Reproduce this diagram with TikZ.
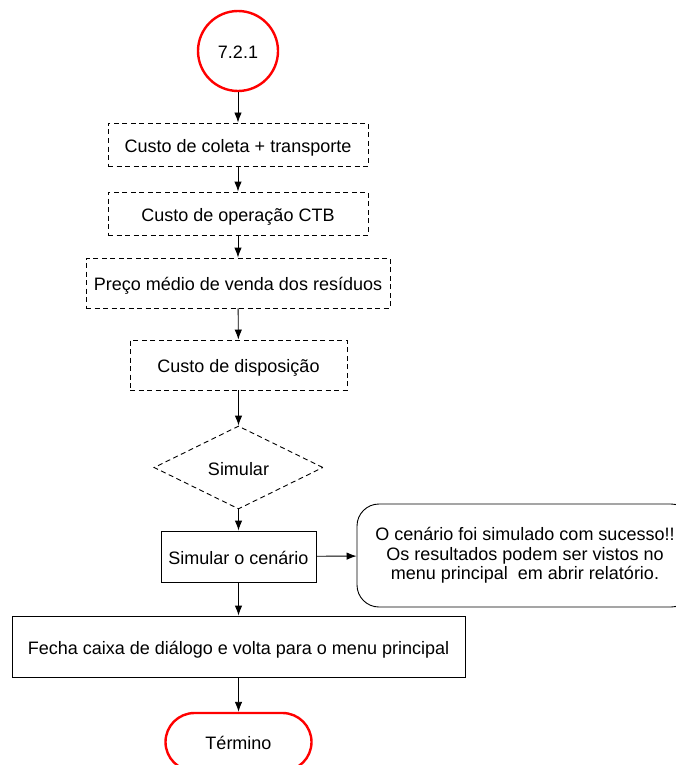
\documentclass[tikz,border=0pt]{standalone}
\usepackage{fontspec}
\setmainfont{Liberation Sans}
\usetikzlibrary{arrows.meta, shapes.geometric, shapes.misc}

\begin{document}
\begin{tikzpicture}[x=1pt,y=-1pt,>={Latex[length=10pt,width=7.5pt]},line width=0.9pt,
  font=\fontsize{18}{19.5}\selectfont,
  oneline/.style={inner sep=0pt,text height=15pt,text depth=0pt},
  dbox/.style={draw,oneline,dash pattern=on 5pt off 3.5pt},
  sbox/.style={draw,oneline},
  mbox/.style={draw,inner sep=0pt,rounded corners=22pt,align=center},
  term/.style={draw=red,oneline,line width=2.4pt}]
  \useasboundingbox (0,0) rectangle (676,765);
  \clip (0,0) rectangle (676,765);

  % start and blocks
  \node[term,circle,minimum size=80pt] (ini) at (238,51) {7.2.1};
  \node[dbox,minimum width=260pt,minimum height=43pt] (coleta) at (238,144.5) {Custo de coleta + transporte};
  \node[dbox,minimum width=260pt,minimum height=43pt] (ctb) at (238,213.5) {Custo de operação CTB};
  \node[dbox,minimum width=304pt,minimum height=50pt] (venda) at (238,283) {Preço médio de venda dos resíduos};
  \node[dbox,minimum width=217pt,minimum height=50pt] (disp) at (238.5,365) {Custo de disposição};

  % decision
  \node[dbox,diamond,minimum width=169pt,minimum height=83pt] (sim) at (238.5,467.5) {Simular};
  \node[sbox,minimum width=155pt,minimum height=51pt] (cen) at (238.5,556.5) {Simular o cenário};
  \node[mbox,minimum width=336pt,minimum height=103pt] (msg) at (525,555.5)
    {O cenário foi simulado com sucesso!!\\Os resultados podem ser vistos no\\menu principal \ em abrir relatório.};
  \node[sbox,minimum width=453pt,minimum height=61pt] (fecha) at (238.5,646.5) {Fecha caixa de diálogo e volta para o menu principal};
  \node[term,rounded rectangle,minimum width=146pt,minimum height=58pt] (fim) at (238.5,742) {Término};

  % connectors
  \draw[->] (ini) -- (coleta);
  \draw[->] (coleta) -- (ctb);
  \draw[->] (ctb) -- (venda);
  \draw[->] (venda) -- (disp);
  \draw[->] (disp) -- (sim);
  \draw[->] (sim) -- (cen);
  \draw[->] (cen) -- (msg);
  \draw[->] (cen) -- (fecha);
  \draw[->] (fecha) -- (fim);
\end{tikzpicture}
\end{document}
